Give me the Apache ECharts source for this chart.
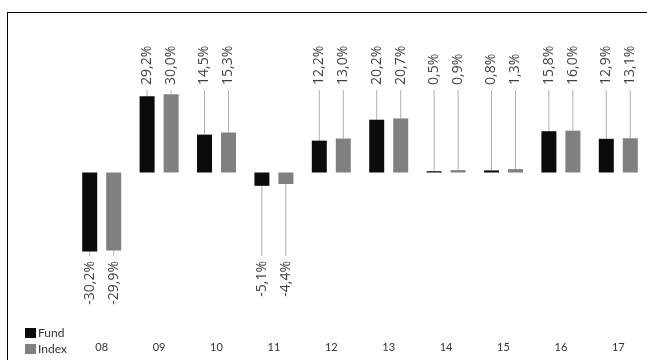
<!DOCTYPE html>
<html>
<head>
<meta charset="utf-8">
<script src="https://cdn.jsdelivr.net/npm/echarts@6/dist/echarts.min.js"></script>
<style>
  html, body { margin: 0; padding: 0; background: #fff; }
  #frame { position: absolute; left: 7px; top: 12px; width: 640px; height: 348px;
           border-left: 1.5px solid #000; border-top: 1.5px solid #000; box-sizing: border-box; }
  #chart { position: absolute; left: 0; top: 0; width: 647px; height: 360px; }
</style>
</head>
<body>
<div id="frame"></div>
<div id="chart"></div>
<script>
// Calendar-year returns, in percent
const years = ['08', '09', '10', '11', '12', '13', '14', '15', '16', '17'];
const fundReturns  = [-30.2, 29.2, 14.5, -5.1, 12.2, 20.2, 0.5, 0.8, 15.8, 12.9];
const indexReturns = [-29.9, 30.0, 15.3, -4.4, 13.0, 20.7, 0.9, 1.3, 16.0, 13.1];
const seriesNames = ['Fund', 'Index'];
const seriesColors = ['#0b0b0b', '#808080'];

const BAR_W = 15;
const BAR_GAP = 9;
const fmt = v => v.toFixed(1).replace('.', ',') + '%';

// one entry per bar: [category index, value, series index]
const labelData = [];
years.forEach((y, i) => {
  labelData.push([i, fundReturns[i], 0]);
  labelData.push([i, indexReturns[i], 1]);
});

// value labels sit on two fixed rows, joined to their bars by thin leaders
function renderLabel(params, api) {
  const cat = api.value(0), v = api.value(1), side = api.value(2);
  const pt = api.coord([cat, v]);
  const x = pt[0] + (side === 0 ? -1 : 1) * (BAR_W + BAR_GAP) / 2;
  const pos = v >= 0;
  const lineY1 = pos ? 90 : pt[1];
  const lineY2 = pos ? pt[1] : 256;
  const children = [];
  if (lineY2 > lineY1) {
    children.push({
      type: 'line',
      shape: { x1: x, y1: lineY1, x2: x, y2: lineY2 },
      style: { stroke: '#b0b0b0', lineWidth: 1 },
      z2: 0
    });
  }
  children.push({
    type: 'text',
    x: x,
    y: pos ? 85 : 261,
    rotation: Math.PI / 2,
    style: {
      text: fmt(v),
      fill: '#404040',
      font: '14px "Open Sans", sans-serif',
      textAlign: pos ? 'left' : 'right',
      textVerticalAlign: 'middle'
    }
  });
  return { type: 'group', children: children };
}

const chart = echarts.init(document.getElementById('chart'), null, { renderer: 'canvas' });
chart.setOption({
  animation: false,
  backgroundColor: 'transparent',
  grid: { left: 73, width: 576, top: 68, height: 209 },
  legend: {
    data: seriesNames,
    orient: 'vertical',
    left: 25,
    top: 327,
    icon: 'rect',
    itemWidth: 11,
    itemHeight: 10,
    itemGap: 4,
    textStyle: { color: '#333', fontFamily: 'Lato, sans-serif', fontSize: 12, padding: [0, 0, 0, -3] },
    padding: 0
  },
  xAxis: {
    type: 'category',
    data: years,
    axisLine: { show: false, onZero: false },
    axisTick: { show: false },
    axisLabel: { margin: 65, color: '#333', fontFamily: 'Lato, sans-serif', fontSize: 11 },
    splitLine: { show: false }
  },
  yAxis: {
    type: 'value',
    min: -40,
    max: 40,
    show: false
  },
  series: [
    {
      name: seriesNames[0],
      type: 'bar',
      data: fundReturns,
      barWidth: BAR_W,
      barGap: (BAR_GAP / BAR_W * 100) + '%',
      itemStyle: { color: seriesColors[0] }
    },
    {
      name: seriesNames[1],
      type: 'bar',
      data: indexReturns,
      barWidth: BAR_W,
      itemStyle: { color: seriesColors[1] }
    },
    {
      type: 'custom',
      data: labelData,
      renderItem: renderLabel,
      silent: true,
      z: 1
    }
  ]
});
</script>
</body>
</html>
